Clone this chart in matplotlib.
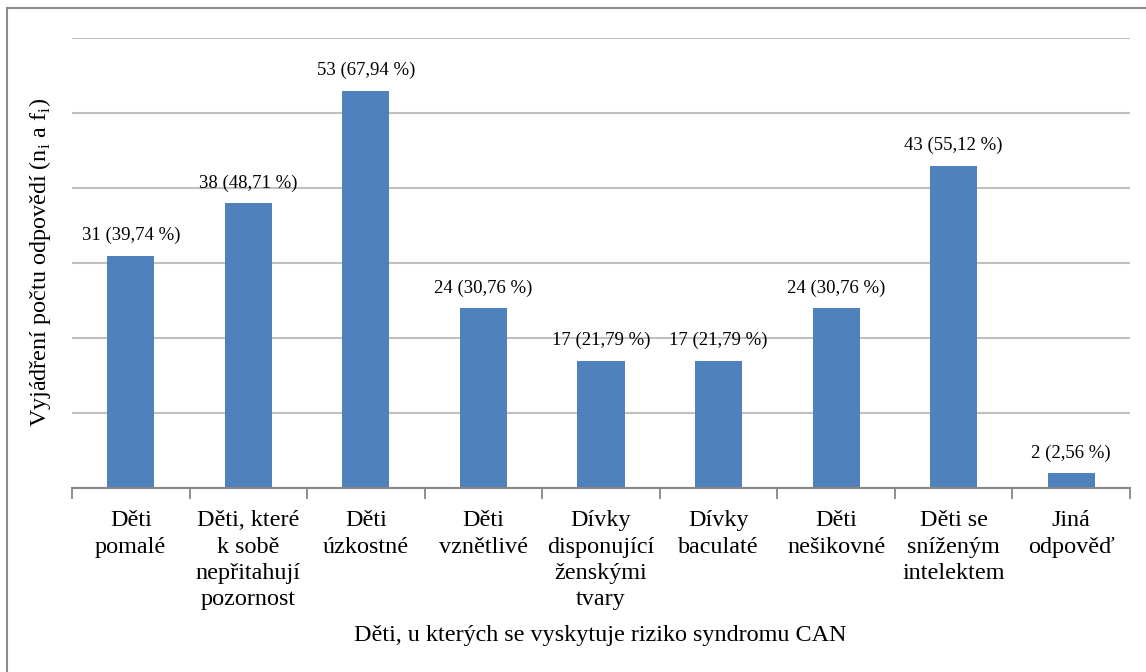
import matplotlib
matplotlib.use("Agg")
import matplotlib.pyplot as plt
from matplotlib.patches import Rectangle
import numpy as np

categories = ["Děti\npomalé", "Děti, které\nk sobě\nnepřitahují\npozornost", "Děti\núzkostné",
              "Děti\nvznětlivé", "Dívky\ndisponující\nženskými\ntvary", "Dívky\nbaculaté",
              "Děti\nnešikovné", "Děti se\nsníženým\nintelektem", "Jiná\nodpověď"]
counts = [31, 38, 53, 24, 17, 17, 24, 43, 2]
percents = ["39,74", "48,71", "67,94", "30,76", "21,79", "21,79", "30,76", "55,12", "2,56"]

plt.rcParams['font.family'] = ['Liberation Serif', 'DejaVu Serif']

fig = plt.figure(figsize=(11.46, 6.72), dpi=100)
ax = fig.add_axes([72/1146, 1-488/672, (1130-72)/1146, (488-38)/672])

# outer frame
fig.patches.append(Rectangle((7/1146, -0.05), 1.1, 1-8/672+0.05, transform=fig.transFigure,
                             fill=False, edgecolor='#8c8c8c', linewidth=1.5))

x = np.arange(len(categories))
bars = ax.bar(x, counts, width=0.4, color='#4F81BD', zorder=3)
for xi, c, p in zip(x, counts, percents):
    ax.text(xi, c + 1.5, f"{c} ({p} %)", ha='center', va='bottom', fontsize=13.5, color='black')

ax.set_xlim(-0.5, len(categories) - 0.5)
ax.set_ylim(0, 60)
ax.set_yticks(np.arange(0, 61, 10))
ax.yaxis.grid(True, color='#c0c0c0', linewidth=1.5, zorder=0)
ax.tick_params(axis='y', length=0, labelleft=False)

ax.set_xticks(x)
ax.set_xticklabels(categories, fontsize=17.4, linespacing=1.33)
ax.set_xticks(np.arange(-0.5, len(categories), 1), minor=True)
ax.tick_params(axis='x', which='major', length=0, pad=16)
ax.tick_params(axis='x', which='minor', length=8, width=1.3, color='#868686', direction='out')

for s in ['top', 'right', 'left']:
    ax.spines[s].set_visible(False)
ax.spines['bottom'].set_color('#868686')
ax.spines['bottom'].set_linewidth(1.5)
ax.spines['bottom'].set_zorder(4)

fig.text(600/1146, 1-636/672, "Děti, u kterých se vyskytuje riziko syndromu CAN",
         ha='center', va='center', fontsize=17.4)
fig.text(40/1146, 1-262/672, "Vyjádření počtu odpovědí (n$_\\mathregular{i}$ a f$_\\mathregular{i}$)",
         ha='center', va='center', rotation=90, fontsize=17.4)

fig.savefig("out.png", dpi=100)
